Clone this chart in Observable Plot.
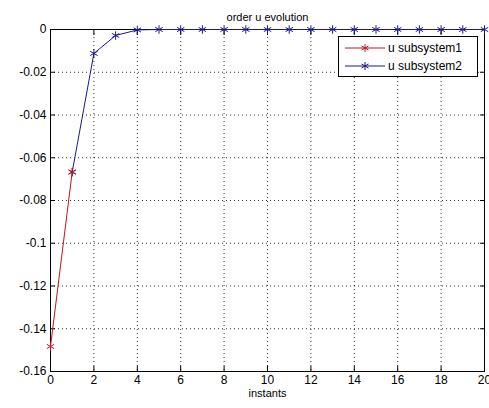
<!DOCTYPE html>
<html><head><meta charset="utf-8">
<script src="https://cdn.jsdelivr.net/npm/d3@7"></script>
<script src="https://cdn.jsdelivr.net/npm/@observablehq/plot@0.6"></script>
<style>
body{margin:0;background:#fff;font-family:"Liberation Sans",Arial,sans-serif;}
#wrap{position:relative;width:489px;height:408px;}
#legend{position:absolute;left:338px;top:36px;width:140px;height:41px;border:1px solid #000;background:#fff;font-size:12px;box-sizing:border-box;}
.row{position:absolute;left:0;height:16px;display:flex;align-items:center;}
</style></head>
<body><div id="wrap"><div id="legend"></div></div>
<script>
const title = "order u evolution";
const xLabel = "instants";
const seriesNames = ["u subsystem1", "u subsystem2"];
const seriesColors = ["#c0141e", "#1a1a8c"];
const x1 = [0, 1];
const y1 = [-0.1483, -0.0667];
const x2 = [1,2,3,4,5,6,7,8,9,10,11,12,13,14,15,16,17,18,19,20];
const y2 = [-0.0667,-0.0112,-0.0028,-0.0002,0,0,0,0,0,0,0,0,0,0,0,0,0,0,0,0];
const xTicks = [0,2,4,6,8,10,12,14,16,18,20];
const yTicks = [0,-0.02,-0.04,-0.06,-0.08,-0.1,-0.12,-0.14,-0.16];

const s1 = x1.map((x,i)=>({x, y:y1[i]}));
const s2 = x2.map((x,i)=>({x, y:y2[i]}));

const chart = Plot.plot({
  width: 489, height: 408,
  marginTop: 29, marginLeft: 50, marginRight: 5, marginBottom: 37,
  style: {fontFamily: '"Liberation Sans", Arial, sans-serif', fontSize: "12px", background: "#fff", color: "#000"},
  x: {domain: [0, 20], ticks: xTicks},
  y: {domain: [-0.16, 0], ticks: yTicks},
  marks: [
    Plot.gridX(xTicks.slice(1, -1), {stroke: "#000", strokeOpacity: 0.8, strokeDasharray: "1,3"}),
    Plot.gridY(yTicks.slice(1, -1), {stroke: "#000", strokeOpacity: 0.8, strokeDasharray: "1,3"}),
    Plot.axisX(xTicks, {tickSize: -5, tickPadding: 9, tickFormat: d => String(d), fontSize: 12, label: null}),
    Plot.axisX(xTicks, {anchor: "top", tickSize: -5, tickFormat: () => "", label: null}),
    Plot.axisY(yTicks, {tickSize: -5, tickPadding: 9, tickFormat: d => String(d), fontSize: 12, label: null}),
    Plot.axisY(yTicks, {anchor: "right", tickSize: -5, tickFormat: () => "", label: null}),
    Plot.frame({stroke: "#000"}),
    Plot.line(s2, {x: "x", y: "y", stroke: seriesColors[1], strokeWidth: 1}),
    Plot.dot(s2, {x: "x", y: "y", symbol: "asterisk", r: 4, stroke: seriesColors[1], strokeWidth: 1}),
    Plot.line(s1, {x: "x", y: "y", stroke: seriesColors[0], strokeWidth: 1}),
    Plot.dot(s1, {x: "x", y: "y", symbol: "asterisk", r: 4, stroke: seriesColors[0], strokeWidth: 1}),
    Plot.text([title], {frameAnchor: "top", dy: -16, fontSize: 11, text: d => d, textAnchor: "middle"}),
    Plot.text([xLabel], {frameAnchor: "bottom", dy: 25, fontSize: 11, text: d => d, textAnchor: "middle"})
  ]
});
const wrap = document.getElementById("wrap");
wrap.insertBefore(chart, wrap.firstChild);

const legend = document.getElementById("legend");
seriesNames.forEach((name, i) => {
  const row = document.createElement("div");
  row.className = "row";
  row.style.top = (3 + i * 18) + "px";
  row.innerHTML = `<svg width="48" height="16"><line x1="6" x2="46" y1="8" y2="8" stroke="${seriesColors[i]}"/>` +
    `<g transform="translate(26,8)" stroke="${seriesColors[i]}"><line x1="0" x2="0" y1="-4" y2="4"/><line x1="-3.5" x2="3.5" y1="-2" y2="2"/><line x1="-3.5" x2="3.5" y1="2" y2="-2"/></g></svg>` +
    `<span style="margin-left:1px">${name}</span>`;
  legend.appendChild(row);
});
</script></body></html>
